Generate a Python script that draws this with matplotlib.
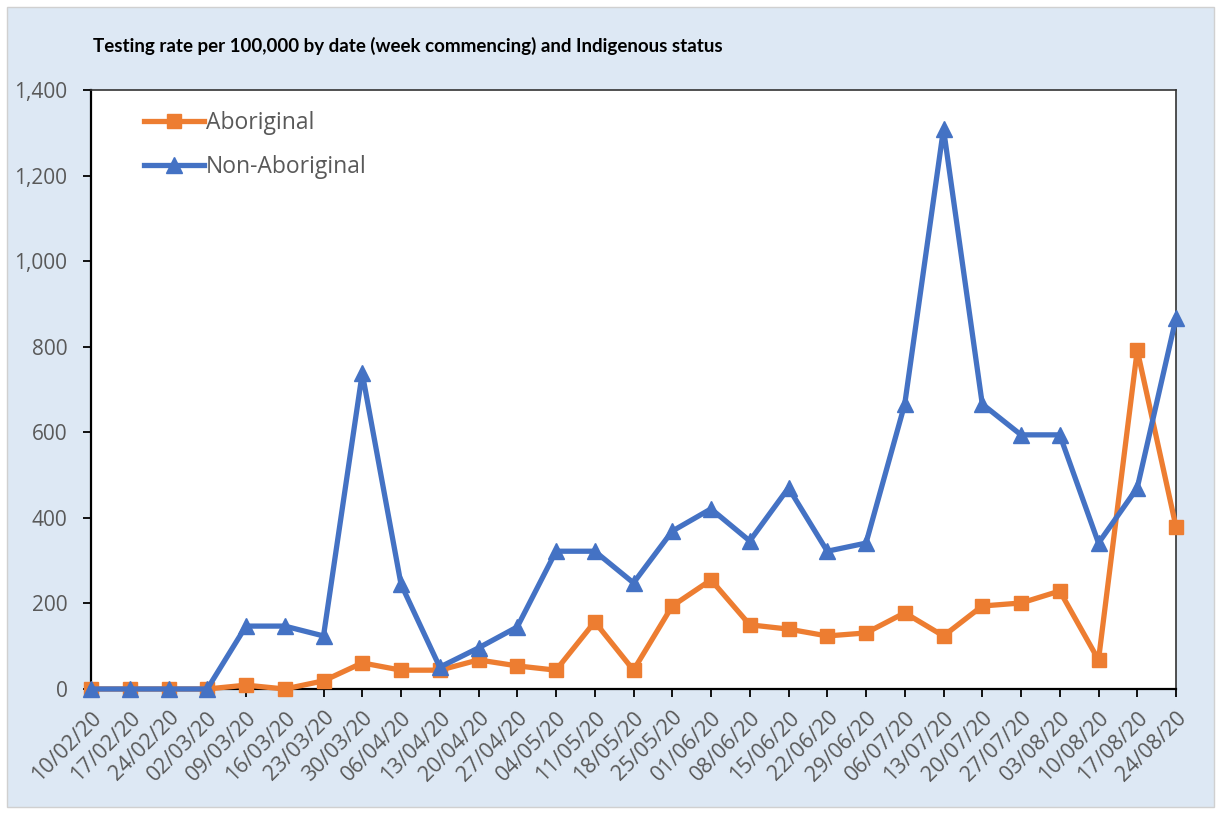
import matplotlib
matplotlib.use("Agg")
import matplotlib.pyplot as plt
from matplotlib.patches import Rectangle

dates = ["10/02/20", "17/02/20", "24/02/20", "02/03/20", "09/03/20", "16/03/20",
         "23/03/20", "30/03/20", "06/04/20", "13/04/20", "20/04/20", "27/04/20",
         "04/05/20", "11/05/20", "18/05/20", "25/05/20", "01/06/20", "08/06/20",
         "15/06/20", "22/06/20", "29/06/20", "06/07/20", "13/07/20", "20/07/20",
         "27/07/20", "03/08/20", "10/08/20", "17/08/20", "24/08/20"]
aboriginal = [0, 0, 0, 0, 9, 0, 19, 61, 44, 44, 68, 54, 44, 157, 44, 194, 255, 150,
              140, 124, 131, 178, 124, 194, 201, 229, 68, 792, 379]
non_aboriginal = [0, 0, 0, 0, 147, 147, 124, 738, 245, 51, 96, 145, 322, 322, 248,
                  369, 421, 346, 470, 322, 341, 666, 1309, 666, 594, 594, 341, 470, 867]
yticks = [0, 200, 400, 600, 800, 1000, 1200, 1400]
title = "Testing rate per 100,000 by date (week commencing) and Indigenous status"

orange = "#ed7d31"
blue = "#4472c4"
grey = "#595959"

fig = plt.figure(figsize=(12.21, 8.14), dpi=100)
fig.patch.set_facecolor("white")
bg = Rectangle((7 / 1221, 7 / 814), 1207 / 1221, 800 / 814, transform=fig.transFigure,
               facecolor="#dde8f4", edgecolor="#d0d0d0", linewidth=1, zorder=-10)
fig.patches.append(bg)

ax = fig.add_axes([91 / 1221, 1 - 689 / 814, (1176 - 91) / 1221, (689 - 90) / 814])
ax.set_facecolor("white")
x = list(range(len(dates)))
ax.plot(x, aboriginal, color=orange, lw=3.8, marker="s", markersize=10,
        label="Aboriginal", clip_on=False, zorder=3)
ax.plot(x, non_aboriginal, color=blue, lw=3.8, marker="^", markersize=11,
        label="Non-Aboriginal", clip_on=False, zorder=3)

ax.set_xlim(0, len(dates) - 1)
ax.set_ylim(0, 1400)
ax.set_yticks(yticks)
ax.set_yticklabels([f"{v:,}" for v in yticks], fontsize=15, color=grey,
                   family="Open Sans")
ax.set_xticks(x)
ax.set_xticklabels(dates, rotation=45, ha="right", rotation_mode="anchor",
                   fontsize=15.5, color=grey, family="Open Sans")
ax.tick_params(axis="x", length=6, width=1.3, color="black", pad=7)
ax.tick_params(axis="y", length=6, width=1.3, color="black", pad=11)
for s in ["left", "bottom"]:
    ax.spines[s].set_linewidth(1.6)
    ax.spines[s].set_color("black")
for s in ["top", "right"]:
    ax.spines[s].set_linewidth(1.2)
    ax.spines[s].set_color("#333333")

leg = ax.legend(loc="upper left", bbox_to_anchor=(0.03, 1.0), frameon=False,
                prop={"family": "Open Sans", "size": 16.5}, handlelength=2.6,
                handletextpad=0.1, labelspacing=0.9, labelcolor=grey)

fig.text(93 / 1221, 1 - 46 / 814, title, fontsize=13.5, fontweight="bold",
         family="Lato", va="center", ha="left", color="black")

fig.savefig("out.png", dpi=100)
